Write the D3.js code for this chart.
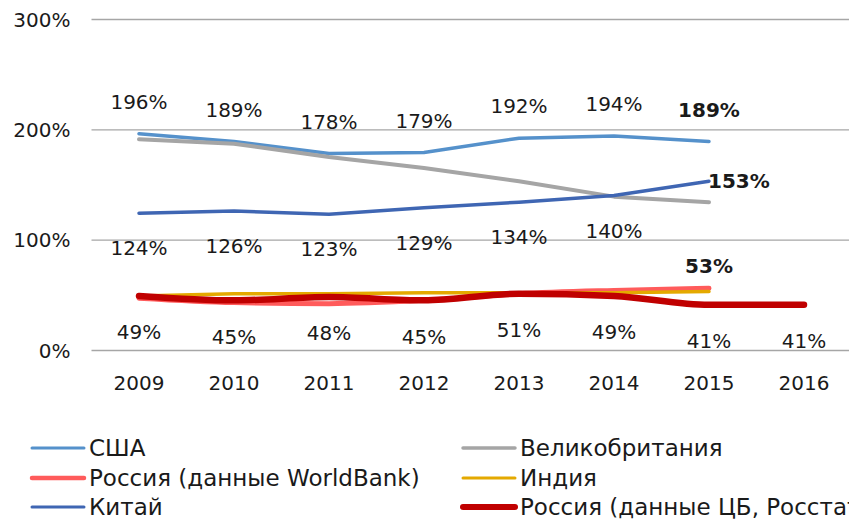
<!DOCTYPE html>
<html>
<head>
<meta charset="utf-8">
<script src="https://cdn.jsdelivr.net/npm/d3@7"></script>
<style>
  body { margin: 0; background: #fff; }
  svg text { font-family: "DejaVu Sans", sans-serif; fill: #1a1a1a; }
</style>
</head>
<body>
<script>
// years on the x axis
let years = ['2009', '2010', '2011', '2012', '2013', '2014', '2015', '2016']
let yTicks = [0, 100, 200, 300]

// series values, %
let usa = [196, 189, 178, 179, 192, 194, 189]
let uk = [191, 187, 175, 165, 153, 139, 134]
let russiaWB = [47, 43, 42, 45, 51, 54, 56]
let india = [49, 51, 51, 52, 52, 52, 53]
let china = [124, 126, 123, 129, 134, 140, 153]
let russiaCB = [49, 45, 48, 45, 51, 49, 41, 41]

let seriesNames = ['США', 'Великобритания', 'Россия (данные WorldBank)', 'Индия', 'Китай', 'Россия (данные ЦБ, Росстат)']

let series = [
    { name: seriesNames[0], values: usa, color: '#5591cb', width: 3.5, curve: d3.curveLinear },
    { name: seriesNames[1], values: uk, color: '#a5a5a5', width: 4, curve: d3.curveLinear },
    { name: seriesNames[2], values: russiaWB, color: '#ff5b5b', width: 5, curve: d3.curveMonotoneX },
    { name: seriesNames[3], values: india, color: '#e4a900', width: 3.5, curve: d3.curveLinear },
    { name: seriesNames[4], values: china, color: '#3f66b3', width: 3.5, curve: d3.curveLinear },
    { name: seriesNames[5], values: russiaCB, color: '#c00000', width: 6.5, curve: d3.curveMonotoneX }
]

let W = 849, H = 519

let svg = d3.select('body').append('svg')
    .attr('width', W)
    .attr('height', H)

let x = d3.scaleBand()
    .domain(years)
    .range([91.5, 851.5])
    .padding(0)

let cx = d => x(d) + x.bandwidth() / 2

let y = d3.scaleLinear()
    .domain([0, 300])
    .range([350, 19])

// y axis + gridlines
let yAxis = svg.append('g')
    .attr('transform', 'translate(91.5,0)')
    .call(d3.axisLeft(y)
        .tickValues(yTicks)
        .tickFormat(d => d + '%')
        .tickSize(-(W - 91.5))
        .tickPadding(21))
yAxis.select('.domain').remove()
yAxis.selectAll('line').attr('stroke', '#a6a6a6').attr('stroke-width', 1.3)
yAxis.selectAll('text').attr('font-size', 20).attr('dy', '0.36em')

// x axis labels
let xAxis = svg.append('g')
    .attr('transform', 'translate(0,350)')
    .call(d3.axisBottom(x).tickSize(0).tickPadding(26))
xAxis.select('.domain').remove()
xAxis.selectAll('text').attr('font-size', 20)

// lines
let line = d3.line()
    .x((d, i) => cx(years[i]))
    .y(d => y(d))

svg.append('g')
    .selectAll('path')
    .data(series)
    .join('path')
    .attr('fill', 'none')
    .attr('stroke', d => d.color)
    .attr('stroke-width', d => d.width)
    .attr('stroke-linecap', 'round')
    .attr('stroke-linejoin', 'round')
    .attr('d', d => line.curve(d.curve)(d.values))

// data labels
let labels = svg.append('g').attr('font-size', 20)

function addLabels(values, dy, boldLast) {
    values.forEach((v, i) => {
        let last = boldLast && i == values.length - 1
        labels.append('text')
            .attr('x', cx(years[i]))
            .attr('y', y(v) + dy)
            .attr('dy', '0.36em')
            .attr('text-anchor', 'middle')
            .attr('font-weight', last ? 'bold' : 'normal')
            .text(v + '%')
    })
}

addLabels(usa, -32, true)
addLabels(china.slice(0, 6), 35, false)
addLabels(russiaCB, 36, false)

// China, last value to the right of the line end
labels.append('text')
    .attr('x', cx(years[6]) - 1)
    .attr('y', y(china[6]))
    .attr('dy', '0.36em')
    .attr('font-weight', 'bold')
    .text(china[6] + '%')

// India, last value above
labels.append('text')
    .attr('x', cx(years[6]))
    .attr('y', y(india[6]) - 26)
    .attr('dy', '0.36em')
    .attr('text-anchor', 'middle')
    .attr('font-weight', 'bold')
    .text(india[6] + '%')

// legend
let legendCols = [32, 463]
let legendRows = [448, 478, 507]

let legend = svg.append('g')
    .selectAll('g')
    .data(series)
    .join('g')
    .attr('transform', (d, i) => `translate(${legendCols[i % 2]},${legendRows[Math.floor(i / 2)]})`)

legend.append('line')
    .attr('x1', 0)
    .attr('x2', 52)
    .attr('stroke', d => d.color)
    .attr('stroke-width', d => Math.max(3, d.width - 0.5))
    .attr('stroke-linecap', 'round')

legend.append('text')
    .attr('x', 57)
    .attr('dy', '0.36em')
    .attr('font-size', 23)
    .text(d => d.name)
</script>
</body>
</html>
